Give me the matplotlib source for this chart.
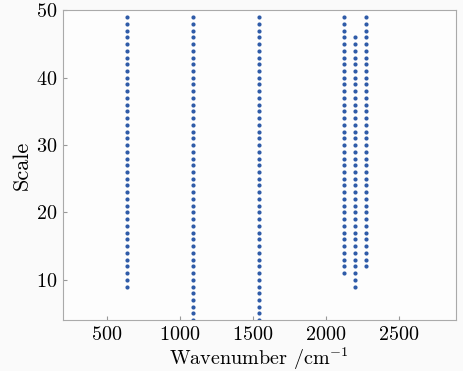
import matplotlib
matplotlib.use("Agg")
import matplotlib.pyplot as plt
import numpy as np

plt.rcParams['font.family'] = 'serif'
plt.rcParams['font.serif'] = ['cmr10', 'DejaVu Serif']
plt.rcParams['mathtext.fontset'] = 'cm'
plt.rcParams['axes.formatter.use_mathtext'] = True
plt.rcParams['axes.unicode_minus'] = False

# wavenumber of each column and the scale range it covers
wavenumbers = [640, 1090, 1541, 2124, 2202, 2277]
scale_min = [9, 4, 4, 11, 9, 12]
scale_max = [49, 49, 49, 49, 46, 49]

fig = plt.figure(figsize=(4.64, 3.71), dpi=100, facecolor='#fafafa')
ax = fig.add_axes([0.135, 0.137, 0.848, 0.835])
ax.set_facecolor('#fdfdfd')

for wn, lo, hi in zip(wavenumbers, scale_min, scale_max):
    s = np.arange(lo, hi + 1)
    ax.plot(np.full(len(s), wn), s, 'o', color='#2f5ba8', markersize=3.0,
            markeredgewidth=0, clip_on=True)

ax.set_xlim(200, 2890)
ax.set_ylim(4, 50)
ax.set_xticks([500, 1000, 1500, 2000, 2500])
ax.set_yticks([10, 20, 30, 40, 50])
ax.tick_params(direction='in', length=3, color='#999999', labelsize=14.5,
               top=False, right=False, pad=4)
for sp in ax.spines.values():
    sp.set_color('#aaaaaa')
ax.set_xlabel(r'Wavenumber /cm$^{-1}$', fontsize=14.5, labelpad=1)
ax.set_ylabel('Scale', fontsize=16, labelpad=3)

fig.savefig('out.png', dpi=100, facecolor=fig.get_facecolor())
